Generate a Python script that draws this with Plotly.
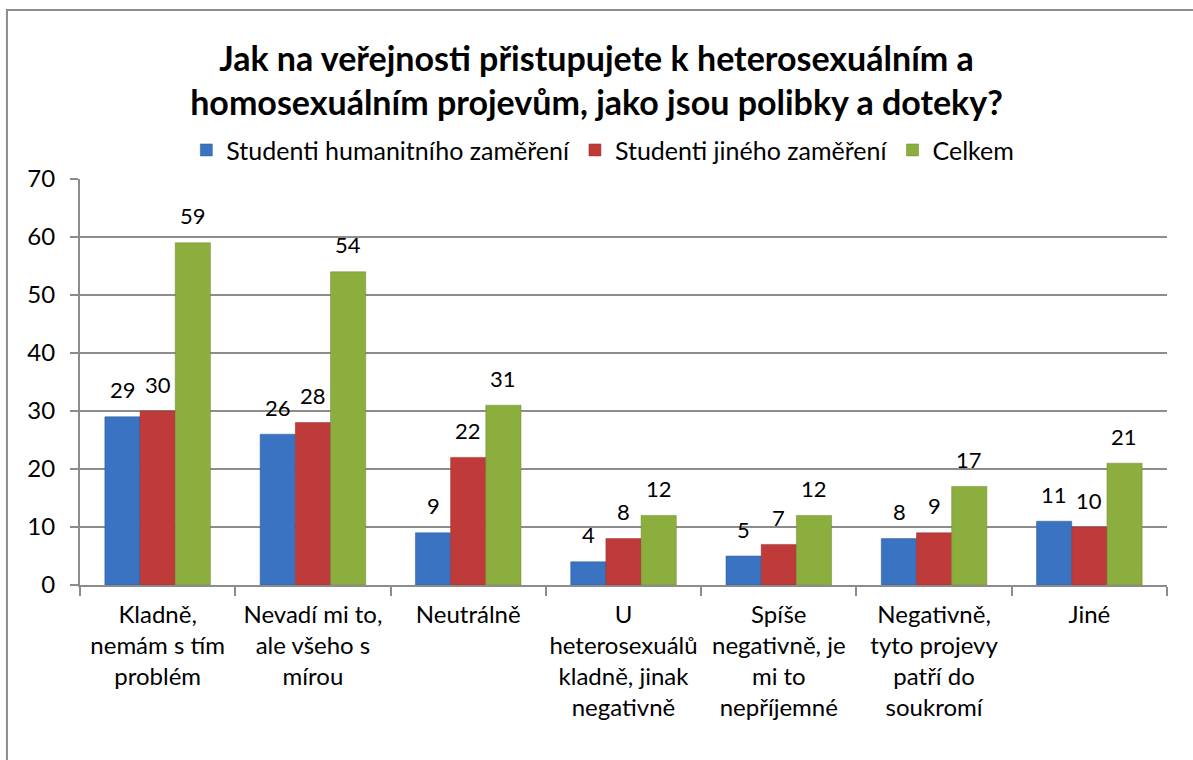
import plotly.graph_objects as go

categories = [
    "Kladně,<br>nemám s tím<br>problém",
    "Nevadí mi to,<br>ale všeho s<br>mírou",
    "Neutrálně",
    "U<br>heterosexuálů<br>kladně, jinak<br>negativně",
    "Spíše<br>negativně, je<br>mi to<br>nepříjemné",
    "Negativně,<br>tyto projevy<br>patří do<br>soukromí",
    "Jiné",
]
humanitni = [29, 26, 9, 4, 5, 8, 11]
jine = [30, 28, 22, 8, 7, 9, 10]
celkem = [59, 54, 31, 12, 12, 17, 21]
series_names = ["Studenti humanitního zaměření", "Studenti jiného zaměření", "Celkem"]
y_ticks = [0, 10, 20, 30, 40, 50, 60, 70]

FONT = "Lato, 'Open Sans', sans-serif"
colors = ["#3a73c2", "#bf3b3a", "#8bae3f"]
lines = ["#2d5a99", "#962d2d", "#6d8a30"]
label_shift = [-35, 0, 35]  # px offset of each bar inside its group

fig = go.Figure()
for name, vals, c, lc, dx in zip(series_names, [humanitni, jine, celkem], colors, lines, label_shift):
    fig.add_trace(go.Bar(
        x=categories,
        y=vals,
        name=name,
        marker=dict(color=c, line=dict(color=lc, width=0.5)),
    ))
    # value labels sit a bit higher than plotly's "outside" text would
    for cat, v in zip(categories, vals):
        fig.add_annotation(
            x=cat, y=v, xref="x", yref="y",
            text=str(v), showarrow=False,
            xshift=dx, yshift=27, yanchor="middle",
            font=dict(size=22, color="black", family=FONT),
        )

fig.update_layout(
    width=1193,
    height=760,
    barmode="group",
    bargap=0.32,
    bargroupgap=0,
    plot_bgcolor="white",
    paper_bgcolor="white",
    font=dict(family=FONT, size=22, color="black"),
    margin=dict(l=80, r=26, t=179, b=175, autoexpand=False),
    title=dict(
        text="<b>Jak na veřejnosti přistupujete k heterosexuálním a<br>homosexuálním projevům, jako jsou polibky a doteky?</b>",
        x=0.5, xanchor="center",
        yref="container", y=0.907, yanchor="middle",
        font=dict(size=34, family=FONT, color="black"),
    ),
    showlegend=True,
    legend=dict(
        orientation="h",
        x=0.481, xanchor="center",
        y=1.071, yanchor="middle",
        font=dict(size=25, family=FONT),
        itemwidth=30,
        traceorder="normal",
    ),
)

fig.update_xaxes(
    showline=True, linecolor="#8c8c8c", linewidth=2,
    ticks="outside", tickson="boundaries", ticklen=9, tickcolor="#8c8c8c", tickwidth=2,
    tickfont=dict(size=24, family=FONT),
    tickangle=0,
    ticklabelstandoff=7,
    showgrid=False,
)
fig.update_yaxes(
    range=[0, 70], tickvals=y_ticks,
    showline=True, linecolor="#8c8c8c", linewidth=2,
    ticks="outside", ticklen=8, tickcolor="#8c8c8c", tickwidth=2,
    showgrid=True, gridcolor="#8c8c8c", gridwidth=2,
    tickfont=dict(size=24, family=FONT),
    ticklabelstandoff=10,
    zeroline=False,
)

fig.add_shape(
    type="rect", xref="paper", yref="paper",
    x0=-0.0672, x1=1.03, y0=-0.5, y1=1.416,
    line=dict(color="#8c8c8c", width=2),
    fillcolor="rgba(0,0,0,0)",
    layer="below",
)

fig.write_html(
    "out.html",
    config={"displayModeBar": False},
    post_script="document.body.style.margin='0';",
)
